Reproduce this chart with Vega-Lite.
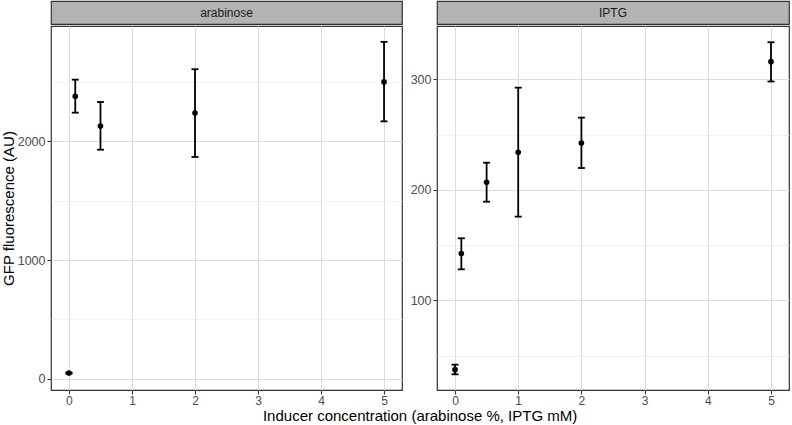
{
  "$schema": "https://vega.github.io/schema/vega-lite/v6.json",
  "padding": {"left": 0, "top": 0, "right": 1, "bottom": 0},
  "background": "white",
  "config": {
    "font": "Liberation Sans",
    "view": {"stroke": "#333333", "strokeWidth": 1.2},
    "axis": {
      "domain": false,
      "tickColor": "#333333",
      "tickSize": 4,
      "tickWidth": 1,
      "labelColor": "#4D4D4D",
      "labelFontSize": 12.5,
      "labelPadding": 2,
      "labelFont": "Liberation Sans",
      "titleFont": "Liberation Sans",
      "titleFontSize": 15,
      "titleFontWeight": "normal",
      "titleColor": "#000000"
    },
    "concat": {"spacing": 6}
  },
  "title": {
    "text": "Inducer concentration (arabinose %, IPTG mM)",
    "orient": "bottom",
    "anchor": "middle",
    "fontSize": 15,
    "fontWeight": "normal",
    "color": "#000000",
    "font": "Liberation Sans",
    "offset": 2,
    "dx": 25
  },
  "datasets": {
    "arabinose": [
      {"conc": 0, "gfp": 48, "lo": 44, "hi": 52},
      {"conc": 0.1, "gfp": 2379, "lo": 2241, "hi": 2519},
      {"conc": 0.5, "gfp": 2129, "lo": 1929, "hi": 2331},
      {"conc": 2, "gfp": 2238, "lo": 1868, "hi": 2607},
      {"conc": 5, "gfp": 2500, "lo": 2168, "hi": 2837}
    ],
    "iptg": [
      {"conc": 0, "gfp": 37.2, "lo": 33, "hi": 41.7},
      {"conc": 0.1, "gfp": 142.2, "lo": 128, "hi": 156.1},
      {"conc": 0.5, "gfp": 206.8, "lo": 189.2, "hi": 224.5},
      {"conc": 1, "gfp": 233.9, "lo": 175.7, "hi": 292.4},
      {"conc": 2, "gfp": 242.3, "lo": 219.7, "hi": 265.3},
      {"conc": 5, "gfp": 315.9, "lo": 298, "hi": 333.5}
    ]
  },
  "hconcat": [
    {
      "spacing": 0,
      "vconcat": [
        {
          "width": 351,
          "height": 23,
          "data": {"values": [{"panel": "arabinose"}]},
          "view": {"fill": "#B3B3B3", "stroke": "#333333", "strokeWidth": 1.2},
          "mark": {"type": "text", "fontSize": 12, "color": "#1A1A1A", "baseline": "middle", "align": "center", "font": "Liberation Sans"},
          "encoding": {"text": {"field": "panel", "type": "nominal"}}
        },
        {
          "width": 351,
          "height": 364,
          "data": {"name": "arabinose"},
          "encoding": {
            "x": {
              "field": "conc", "type": "quantitative",
              "scale": {"domain": [-0.285, 5.285], "nice": false, "zero": false},
              "axis": {
                "title": null,
                "labelFontSize": 12,
                "labelPadding": 1.5,
                "values": [0, 0.5, 1, 1.5, 2, 2.5, 3, 3.5, 4, 4.5, 5],
                "format": "d",
                "labelExpr": "datum.value % 1 === 0 ? datum.label : ''",
                "tickOpacity": {"condition": {"test": "datum.value % 1 !== 0", "value": 0}, "value": 1},
                "gridColor": {"condition": {"test": "datum.value % 1 !== 0", "value": "#EBEBEB"}, "value": "#DCDCDC"},
                "gridWidth": {"condition": {"test": "datum.value % 1 !== 0", "value": 0.7}, "value": 1.1}
              }
            }
          },
          "layer": [
            {
              "mark": {"type": "rule", "strokeWidth": 1.8, "color": "#000000"},
              "encoding": {
                "y": {
                  "field": "lo", "type": "quantitative",
                  "scale": {"domain": [-95, 2971], "nice": false, "zero": false},
                  "axis": {
                    "title": "GFP fluorescence (AU)",
                    "titlePadding": 1,
                    "values": [0, 500, 1000, 1500, 2000, 2500],
                    "format": "d",
                    "labelExpr": "datum.value % 1000 === 0 ? datum.label : ''",
                    "tickOpacity": {"condition": {"test": "datum.value % 1000 !== 0", "value": 0}, "value": 1},
                    "gridColor": {"condition": {"test": "datum.value % 1000 !== 0", "value": "#EBEBEB"}, "value": "#DCDCDC"},
                    "gridWidth": {"condition": {"test": "datum.value % 1000 !== 0", "value": 0.7}, "value": 1.1}
                  }
                },
                "y2": {"field": "hi"}
              }
            },
            {
              "mark": {"type": "tick", "orient": "horizontal", "size": 7, "thickness": 1.8, "color": "#000000", "opacity": 1},
              "encoding": {"y": {"field": "lo", "type": "quantitative"}}
            },
            {
              "mark": {"type": "tick", "orient": "horizontal", "size": 7, "thickness": 1.8, "color": "#000000", "opacity": 1},
              "encoding": {"y": {"field": "hi", "type": "quantitative"}}
            },
            {
              "mark": {"type": "point", "filled": true, "size": 32, "color": "#000000", "opacity": 1},
              "encoding": {"y": {"field": "gfp", "type": "quantitative"}}
            }
          ]
        }
      ]
    },
    {
      "spacing": 0,
      "vconcat": [
        {
          "width": 352,
          "height": 23,
          "data": {"values": [{"panel": "IPTG"}]},
          "view": {"fill": "#B3B3B3", "stroke": "#333333", "strokeWidth": 1.2},
          "mark": {"type": "text", "fontSize": 12, "color": "#1A1A1A", "baseline": "middle", "align": "center", "font": "Liberation Sans"},
          "encoding": {"text": {"field": "panel", "type": "nominal"}}
        },
        {
          "width": 352,
          "height": 364,
          "data": {"name": "iptg"},
          "encoding": {
            "x": {
              "field": "conc", "type": "quantitative",
              "scale": {"domain": [-0.285, 5.285], "nice": false, "zero": false},
              "axis": {
                "title": null,
                "labelFontSize": 12,
                "labelPadding": 1.5,
                "values": [0, 0.5, 1, 1.5, 2, 2.5, 3, 3.5, 4, 4.5, 5],
                "format": "d",
                "labelExpr": "datum.value % 1 === 0 ? datum.label : ''",
                "tickOpacity": {"condition": {"test": "datum.value % 1 !== 0", "value": 0}, "value": 1},
                "gridColor": {"condition": {"test": "datum.value % 1 !== 0", "value": "#EBEBEB"}, "value": "#DCDCDC"},
                "gridWidth": {"condition": {"test": "datum.value % 1 !== 0", "value": 0.7}, "value": 1.1}
              }
            }
          },
          "layer": [
            {
              "mark": {"type": "rule", "strokeWidth": 1.8, "color": "#000000"},
              "encoding": {
                "y": {
                  "field": "lo", "type": "quantitative",
                  "scale": {"domain": [18.8, 348.2], "nice": false, "zero": false},
                  "axis": {
                    "title": null,
                    "values": [50, 100, 150, 200, 250, 300],
                    "format": "d",
                    "labelExpr": "datum.value % 100 === 0 ? datum.label : ''",
                    "tickOpacity": {"condition": {"test": "datum.value % 100 !== 0", "value": 0}, "value": 1},
                    "gridColor": {"condition": {"test": "datum.value % 100 !== 0", "value": "#EBEBEB"}, "value": "#DCDCDC"},
                    "gridWidth": {"condition": {"test": "datum.value % 100 !== 0", "value": 0.7}, "value": 1.1}
                  }
                },
                "y2": {"field": "hi"}
              }
            },
            {
              "mark": {"type": "tick", "orient": "horizontal", "size": 7, "thickness": 1.8, "color": "#000000", "opacity": 1},
              "encoding": {"y": {"field": "lo", "type": "quantitative"}}
            },
            {
              "mark": {"type": "tick", "orient": "horizontal", "size": 7, "thickness": 1.8, "color": "#000000", "opacity": 1},
              "encoding": {"y": {"field": "hi", "type": "quantitative"}}
            },
            {
              "mark": {"type": "point", "filled": true, "size": 32, "color": "#000000", "opacity": 1},
              "encoding": {"y": {"field": "gfp", "type": "quantitative"}}
            }
          ]
        }
      ]
    }
  ]
}
